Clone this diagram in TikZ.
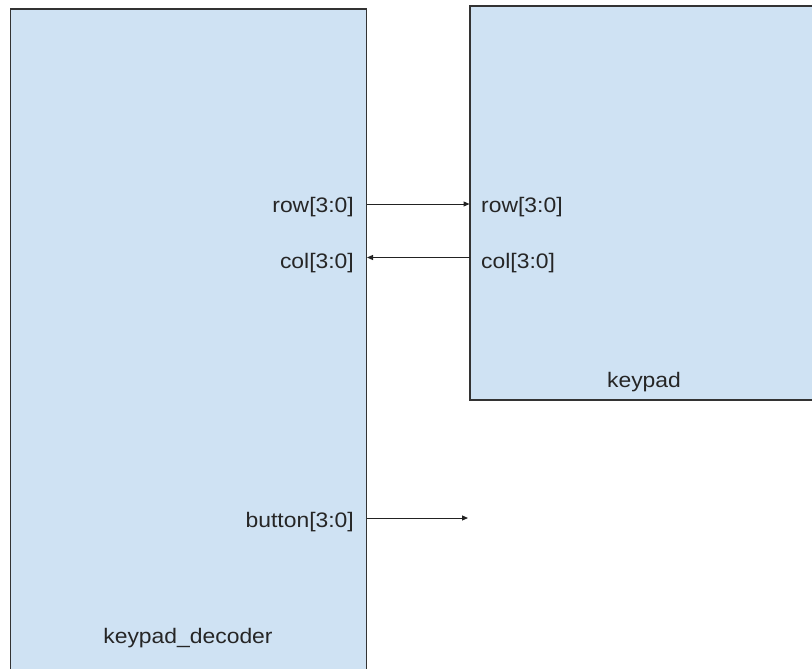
\documentclass[tikz,border=0pt]{standalone}
\usepackage{fontspec}
\setmainfont{Liberation Sans}[FakeStretch=1.09]
\usetikzlibrary{arrows.meta}
\definecolor{blockfill}{HTML}{CFE2F3}
\definecolor{blockline}{HTML}{333333}
\definecolor{wire}{HTML}{222222}
\tikzset{
  block/.style={draw=blockline, line width=1.3pt, fill=blockfill},
  port/.style={inner sep=0pt, font=\fontsize{21}{24}\selectfont, text=black!85},
  signal/.style={draw=wire, line width=1pt, -{Triangle[length=6pt,width=5pt]}}
}
\begin{document}
\begin{tikzpicture}[x=1pt,y=-1pt]
  \useasboundingbox (0,0) rectangle (812,669);
  \clip (0,0) rectangle (812,669);

  % blocks
  \path[block] (10.5,9) rectangle (366.5,690);
  \path[block] (470,6) rectangle (840,400);
  \node[port, anchor=base] (declabel) at (188,643) {keypad\_decoder};
  \node[port, anchor=base] (kplabel) at (644,387) {keypad};

  % port labels on the decoder
  \node[port, anchor=base east] (drow) at (354,212) {row[3:0]};
  \node[port, anchor=base east] (dcol) at (354,268) {col[3:0]};
  \node[port, anchor=base east] (dbtn) at (354,527) {button[3:0]};

  % port labels on the keypad
  \node[port, anchor=base west] (krow) at (481,212) {row[3:0]};
  \node[port, anchor=base west] (kcol) at (481,268) {col[3:0]};

  % wire end points on the block edges
  \coordinate (drowpin) at (367,204);
  \coordinate (dcolpin) at (367,257.5);
  \coordinate (dbtnpin) at (367,518);
  \coordinate (krowpin) at (469.5,204);
  \coordinate (kcolpin) at (469.5,257.5);
  \coordinate (btnend) at (468,518);

  % wires
  \draw[signal] (drowpin) -- (krowpin);
  \draw[signal] (kcolpin) -- (dcolpin);
  \draw[signal] (dbtnpin) -- (btnend);
\end{tikzpicture}
\end{document}
